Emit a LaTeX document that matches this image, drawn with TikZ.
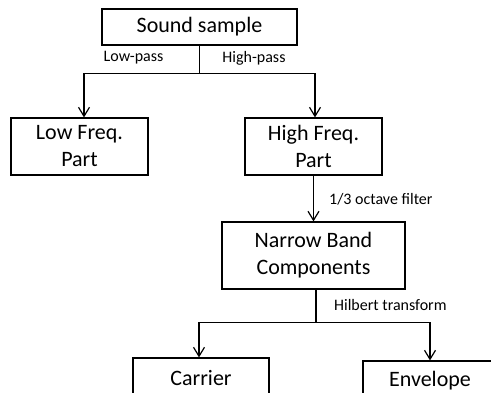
\documentclass[tikz,border=0pt]{standalone}
\usepackage{fontspec}
\setmainfont{Carlito}
\usetikzlibrary{arrows.meta}
\tikzset{
    block/.style={draw,line width=1.2pt,align=center,inner sep=0pt,
        font=\fontsize{22}{27}\selectfont},
    lbl/.style={font=\fontsize{16}{19}\selectfont,inner sep=0pt},
    link/.style={line width=1.2pt},
    arr/.style={link,-{Straight Barb[length=9pt,width=11pt,line width=1.2pt]}}
}

\begin{document}
\begin{tikzpicture}[x=1pt,y=-1pt]
        \useasboundingbox (0,0) rectangle (491,392);
        % boxes
        \node[block,minimum width=195pt,minimum height=36pt] (sound) at (199.5,27) {Sound sample};
        \node[block,minimum width=137pt,minimum height=57pt] (low) at (79.5,146.5) {Low Freq.\\Part};
        \node[block,minimum width=137pt,minimum height=57pt] (high) at (313.5,146.5) {High Freq.\\Part};
        \node[block,minimum width=183pt,minimum height=67pt] (narrow) at (313.5,255.5) {Narrow Band\\Components};
        \node[block,minimum width=136pt,minimum height=40pt] (carrier) at (201,378) {Carrier};
        \node[block,minimum width=134pt,minimum height=40pt] (envelope) at (430,381) {Envelope};
        % first split
        \draw[link] (sound.south) -- ++(0,28) coordinate (fork1);
        \draw[arr] (fork1) -| ([xshift=4.5pt]low.north);
        \draw[arr] (fork1) -| ([xshift=1.5pt]high.north);
        \node[lbl] (lp) at (133.5,58) {Low-pass};
        \node[lbl] (hp) at (254,58) {High-pass};
        % band filter
        \draw[arr] (high.south) -- (narrow.north);
        \node[lbl,anchor=west] (oct) at (329,199) {1/3 octave filter};
        % second split
        \draw[link] ([xshift=2.5pt]narrow.south) -- ++(0,33) coordinate (fork2);
        \draw[arr] (fork2) -| ([xshift=-2pt]carrier.north);
        \draw[arr] (fork2) -| (envelope.north);
        \node[lbl,anchor=west] (hil) at (334,305) {Hilbert transform};
\end{tikzpicture}
\end{document}
